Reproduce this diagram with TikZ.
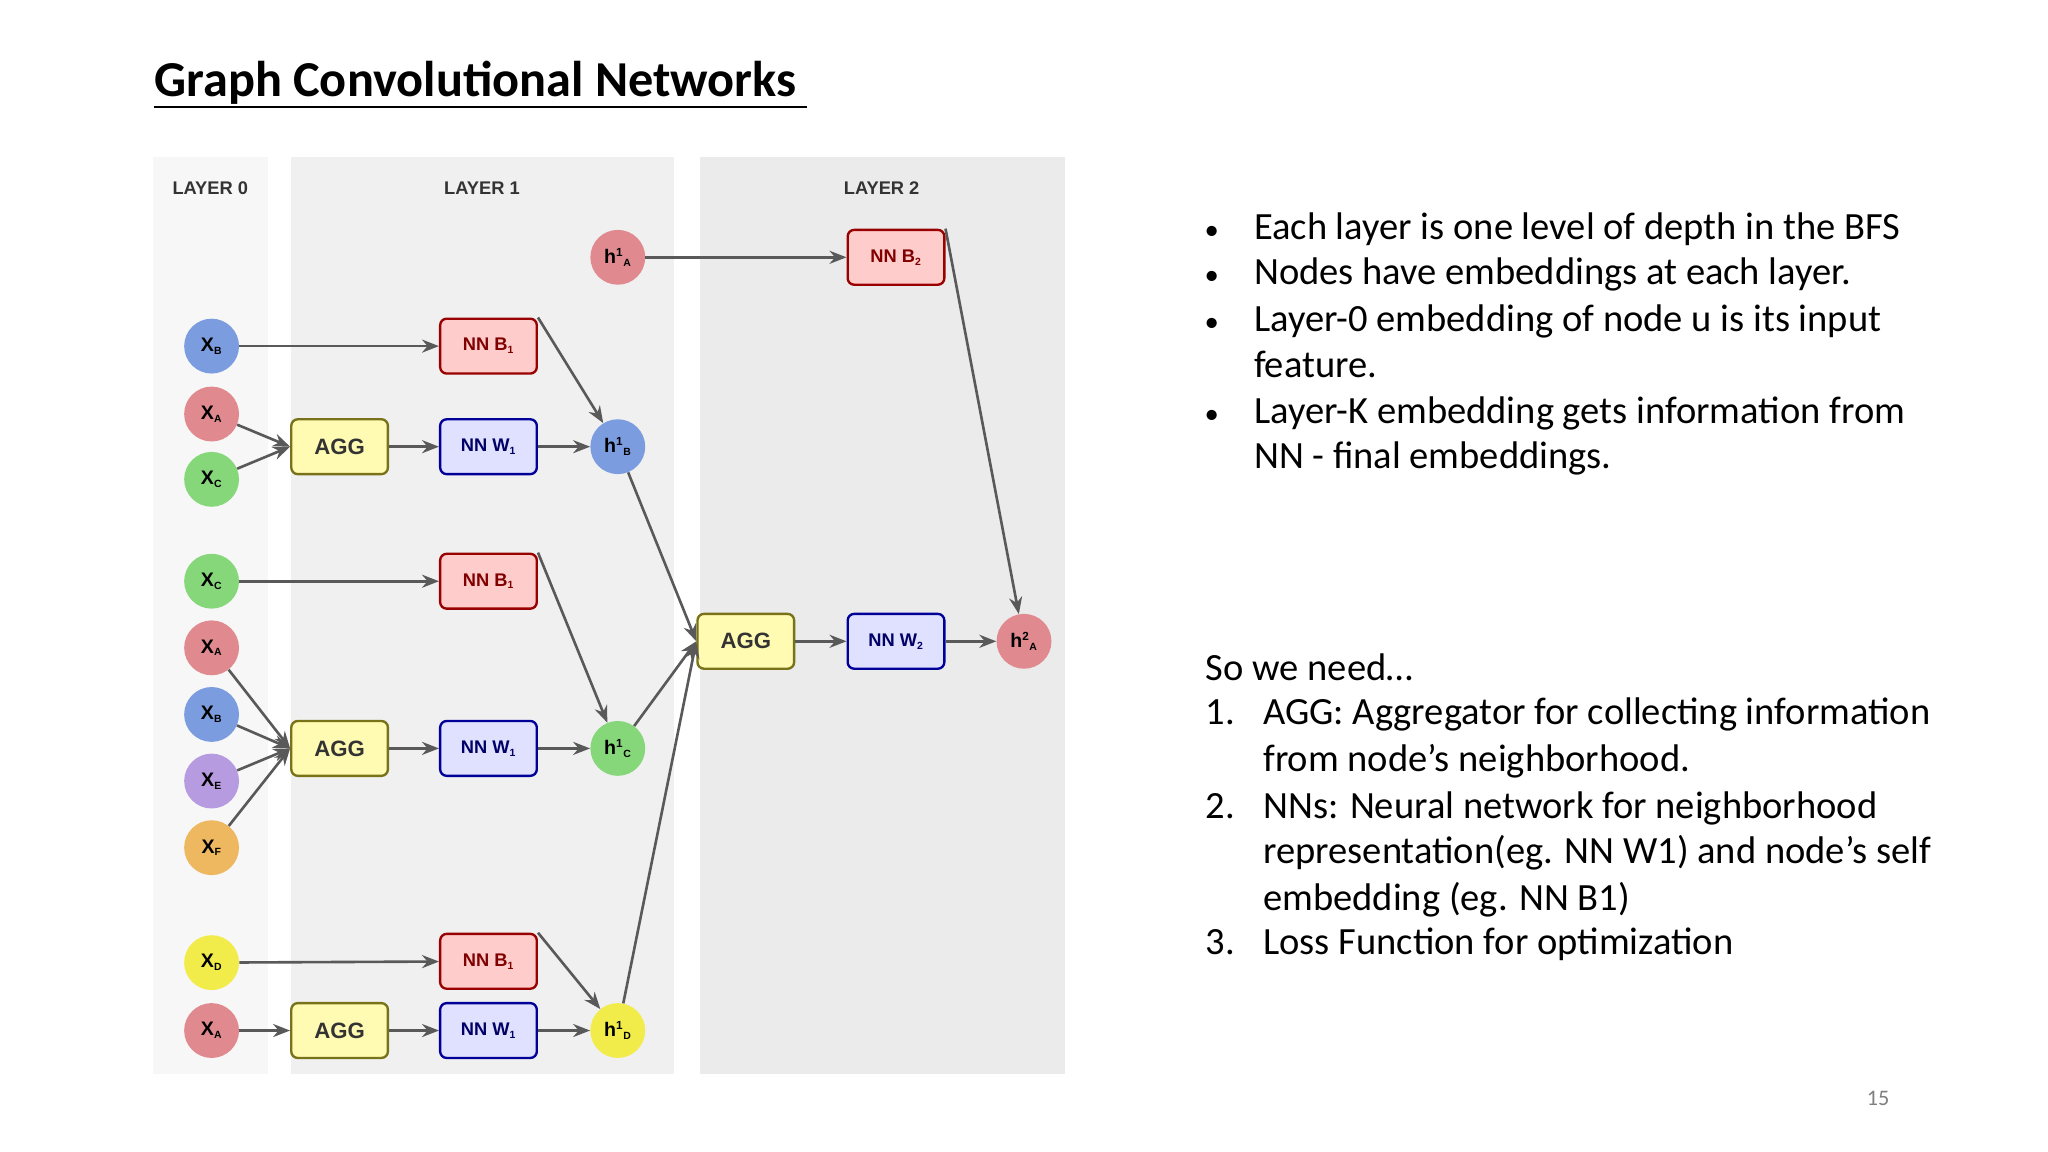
\documentclass[tikz,border=0pt]{standalone}
\usepackage{fontspec}
\setmainfont{Carlito}
\newfontfamily\dsans{Liberation Sans}
\usetikzlibrary{arrows.meta}
\definecolor{cb}{HTML}{7B9DE0}\definecolor{cr}{HTML}{E08A8F}\definecolor{cg}{HTML}{86D77A}
\definecolor{cp}{HTML}{B79BE0}\definecolor{co}{HTML}{EDB860}\definecolor{cy}{HTML}{F2EC4A}
\newcommand{\sub}[2]{#1\textsubscript{\fontsize{8}{8}\selectfont #2}}
\newcommand{\hsub}[3]{#1\textsuperscript{\fontsize{9}{9}\selectfont #2}\textsubscript{\fontsize{8}{8}\selectfont #3}}
\begin{document}
\begin{tikzpicture}[x=1pt,y=-1pt,
 circ/.style={circle,minimum size=42pt,inner sep=0pt,font=\dsans\bfseries\fontsize{15}{15}\selectfont},
 box/.style={rounded corners=5pt,minimum width=74pt,minimum height=42pt,line width=1.8pt,font=\dsans\bfseries\fontsize{14}{14}\selectfont},
 agg/.style={box,fill=yellow!30!white,draw=olive!80!black,text=black!80,font=\dsans\bfseries\fontsize{17}{17}\selectfont},
 nnb/.style={box,fill=red!20!white,draw=red!60!black,text=red!50!black},
 nnw/.style={box,fill=blue!12!white,draw=blue!60!black,text=blue!40!black},
 ar/.style={draw=black!65,line width=2pt,-{Stealth[length=13pt,width=10pt]}},
 lay/.style={font=\dsans\bfseries\fontsize{14}{14}\selectfont,text=black!80},
 txt/.style={anchor=base west,font=\fontsize{29.5}{29.5}\selectfont,inner sep=0pt}]
\useasboundingbox (0,0) rectangle (1568,882);
\fill[white] (0,0) rectangle (1568,882);
\fill[black!3] (117,120) rectangle (205,822);
\fill[black!6] (223,120) rectangle (516,822);
\fill[black!8] (536,120) rectangle (815,822);
\node[lay] (l0) at (161,144) {LAYER 0};
\node[lay] (l1) at (369,144) {LAYER 1};
\node[lay] (l2) at (675,144) {LAYER 2};
\node[anchor=base west,inner sep=0pt,font=\bfseries\fontsize{38.5}{38.5}\selectfont] (title) at (118,74) {Graph Convolutional Networks};
\draw[line width=1.6pt] (118,82) -- (618,82);
% layer 0
\node[circ,fill=cb] (b1) at (162,265) {\sub{X}{B}};
\node[circ,fill=cr] (a1) at (162,317) {\sub{X}{A}};
\node[circ,fill=cg] (c1) at (162,367) {\sub{X}{C}};
\node[circ,fill=cg] (c2) at (162,445) {\sub{X}{C}};
\node[circ,fill=cr] (a2) at (162,496) {\sub{X}{A}};
\node[circ,fill=cb] (b2) at (162,547) {\sub{X}{B}};
\node[circ,fill=cp] (e2) at (162,598) {\sub{X}{E}};
\node[circ,fill=co] (f2) at (162,649) {\sub{X}{F}};
\node[circ,fill=cy] (d3) at (162,737) {\sub{X}{D}};
\node[circ,fill=cr] (a3) at (162,789) {\sub{X}{A}};
% layer 1
\node[agg] (g1) at (260,342) {AGG};
\node[agg] (g2) at (260,573) {AGG};
\node[agg] (g3) at (260,789) {AGG};
\node[nnb] (nb1) at (374,265) {\sub{NN B}{1}};
\node[nnb] (nb2) at (374,445) {\sub{NN B}{1}};
\node[nnb] (nb3) at (374,736) {\sub{NN B}{1}};
\node[nnw] (nw1) at (374,342) {\sub{NN W}{1}};
\node[nnw] (nw2) at (374,573) {\sub{NN W}{1}};
\node[nnw] (nw3) at (374,789) {\sub{NN W}{1}};
\node[circ,fill=cr] (hA) at (473,197) {\hsub{h}{1}{A}};
\node[circ,fill=cb] (hB) at (473,342) {\hsub{h}{1}{B}};
\node[circ,fill=cg] (hC) at (473,573) {\hsub{h}{1}{C}};
\node[circ,fill=cy] (hD) at (473,789) {\hsub{h}{1}{D}};
% layer 2
\node[agg] (g4) at (571,491) {AGG};
\node[nnw] (nw4) at (686,491) {\sub{NN W}{2}};
\node[nnb] (nb4) at (686,197) {\sub{NN B}{2}};
\node[circ,fill=cr] (h2) at (784,491) {\hsub{h}{2}{A}};
% arrows
\draw[ar] (b1) -- (nb1);
\foreach \s in {a1,c1} \draw[ar] (\s) -- (g1.west);
\draw[ar] (c2) -- (nb2);
\foreach \s in {a2,b2,e2,f2} \draw[ar] (\s) -- (g2.west);
\draw[ar] (d3) -- (nb3);
\draw[ar] (a3) -- (g3);
\foreach \i in {1,2,3} \draw[ar] (g\i) -- (nw\i);
\draw[ar] (nb1.north east) -- (hB);
\draw[ar] (nw1) -- (hB);
\draw[ar] (nb2.north east) -- (hC);
\draw[ar] (nw2) -- (hC);
\draw[ar] (nb3.north east) -- (hD);
\draw[ar] (nw3) -- (hD);
\foreach \s in {hB,hC,hD} \draw[ar] (\s) -- (g4.west);
\draw[ar] (hA) -- (nb4);
\draw[ar] (g4) -- (nw4);
\draw[ar] (nw4) -- (h2);
\draw[ar] (nb4.north east) -- (h2);
% text
\foreach \y/\t in {174/Each layer is one level of depth in the BFS,209/Nodes have embeddings at each layer.,245/Layer-0 embedding of node u is its input,315/Layer-K embedding gets information from}
 {\node[txt,font=\fontsize{22}{22}\selectfont] at (922,\y+9) {•}; \node[txt] at (960,\y+9) {\t};}
\node[txt] (t1) at (960,289) {feature.};
\node[txt] (t2) at (960,359) {NN - final embeddings.};
\node[txt] (s) at (923,521) {So we need…};
\node[txt] at (923,555) {1.}; \node[txt] at (967,555) {AGG: Aggregator for collecting information};
\node[txt] at (967,591) {from node’s neighborhood.};
\node[txt] at (923,627) {2.}; \node[txt] at (967,627) {NNs: Neural network for neighborhood};
\node[txt] at (967,661) {representation(eg. NN W1) and node’s self};
\node[txt] at (967,697) {embedding (eg. NN B1)};
\node[txt] at (923,731) {3.}; \node[txt] at (967,731) {Loss Function for optimization};
\node[font=\fontsize{17}{17}\selectfont,text=black!50] (pg) at (1438,841) {15};
\end{tikzpicture}
\end{document}
